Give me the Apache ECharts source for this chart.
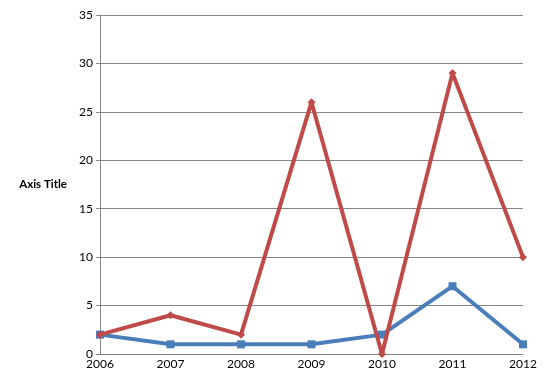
<!DOCTYPE html>
<html><head><meta charset="utf-8">
<script src="https://cdn.jsdelivr.net/npm/echarts@6/dist/echarts.min.js"></script>
<style>html,body{margin:0;padding:0;background:#fff}#c{width:548px;height:379px}</style>
</head><body><div id="c"></div>
<script>
var categories = ['2006','2007','2008','2009','2010','2011','2012'];
var seriesBlue = [2,1,1,1,2,7,1];
var seriesRed = [2,4,2,26,0,29,10];
var yTicks = {min:0, max:35, interval:5};
var chart = echarts.init(document.getElementById('c'), null, {renderer:'canvas'});
chart.setOption({
  animation:false,
  backgroundColor:'#fff',
  grid:{left:100, right:25, top:15, bottom:25, containLabel:false},
  xAxis:{type:'category', data:categories, boundaryGap:false,
    axisLine:{lineStyle:{color:'#868686', width:1}},
    axisTick:{show:false},
    axisLabel:{color:'#000', fontFamily:'Lato', fontSize:12, margin:4}},
  yAxis:{type:'value', min:yTicks.min, max:yTicks.max, interval:yTicks.interval,
    name:'Axis Title', nameLocation:'middle', nameGap:33, nameRotate:0,
    nameTextStyle:{fontFamily:'Lato', fontWeight:'bold', fontSize:11.5, color:'#000', align:'right', padding:[8,0,0,0]},
    axisLine:{show:true, lineStyle:{color:'#868686'}},
    axisTick:{show:true, length:4, lineStyle:{color:'#868686'}},
    splitLine:{lineStyle:{color:'#868686'}},
    axisLabel:{color:'#000', fontFamily:'Lato', fontSize:12, margin:7}},
  series:[
    {type:'line', data:seriesBlue, symbol:'rect', symbolSize:8, lineStyle:{color:'#4a7ebb', width:4}, itemStyle:{color:'#4a7ebb'}, z:2},
    {type:'line', data:seriesRed, symbol:'diamond', symbolSize:8, lineStyle:{color:'#be4b48', width:4}, itemStyle:{color:'#be4b48'}, z:3}
  ]
});
</script></body></html>
